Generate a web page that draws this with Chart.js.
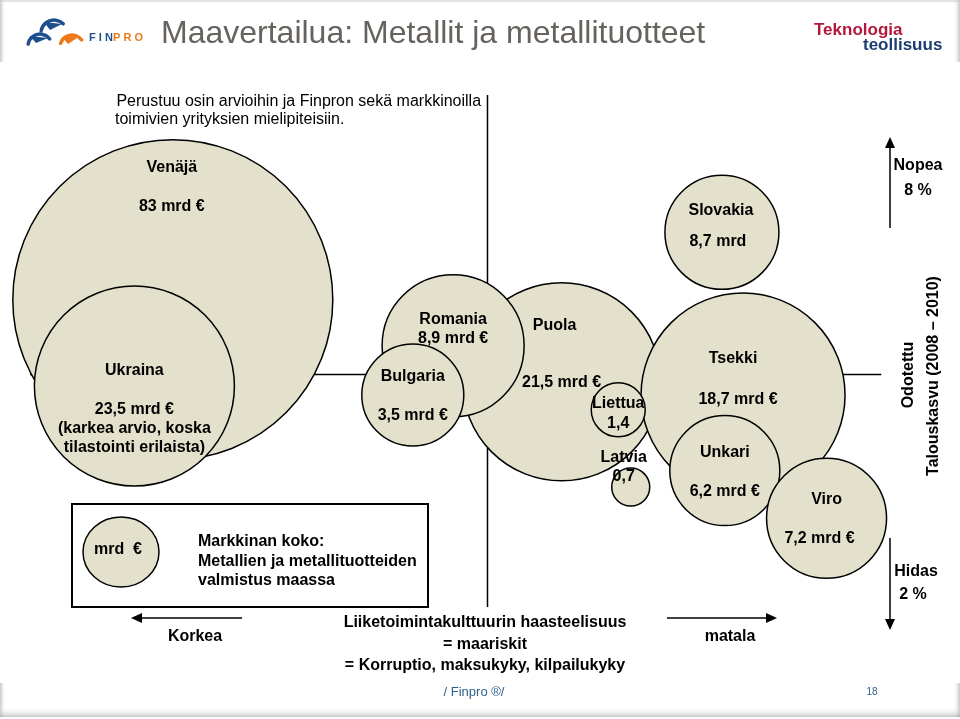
<!DOCTYPE html>
<html>
<head>
<meta charset="utf-8">
<title>Maavertailua: Metallit ja metallituotteet</title>
<script src="https://cdn.jsdelivr.net/npm/chart.js@4.4.1/dist/chart.umd.min.js"></script>
<style>
  html, body { margin: 0; padding: 0; background: #ffffff; }
  #kaavio { display: block; }
</style>
</head>
<body>
<canvas id="kaavio" width="960" height="719"></canvas>
<script>
// Maat piirtojärjestyksessä (alimmasta ylimpään)
const maat = ['Venäjä', 'Ukraina', 'Puola', 'Romania', 'Bulgaria', 'Tsekki', 'Liettua', 'Latvia', 'Slovakia', 'Unkari', 'Viro'];
// Markkinan koko, mrd €
const markkinaMrd = [83, 23.5, 21.5, 8.9, 3.5, 18.7, 1.4, 0.7, 8.7, 6.2, 7.2];
// Liiketoimintakulttuurin haasteellisuus (0 = korkea ... 10 = matala)
const haasteX = [1.80, 1.40, 5.85, 4.72, 4.30, 7.74, 6.44, 6.57, 7.52, 7.55, 8.61];
// Odotettu talouskasvu 2008-2010, %
const kasvuY = [6.02, 4.97, 5.02, 5.46, 4.86, 4.86, 4.68, 3.74, 6.84, 3.94, 3.36];
// Kuplan koko kuvasta luettuna
const kuplaR = [160, 100, 99, 71, 51, 102, 27, 19, 57, 55, 60];

const FONTTI = '"Liberation Sans", Arial, Helvetica, sans-serif';

// kuplat saavat mennä reunojen yli, ei automaattista reunatilaa
Chart.BubbleController.prototype.getMaxOverflow = function () { return 0; };

// luku suomalaisella desimaalipilkulla
function fmt(v) { return String(v).replace('.', ','); }

// tekstien sijoittelu kuplan keskipisteen suhteen
const tekstit = {
  'Venäjä':   [[-1, -132, n => n], [-1, -93, (n, v) => fmt(v) + ' mrd €']],
  'Ukraina':  [[0, -15, n => n], [0, 24, (n, v) => fmt(v) + ' mrd €'], [0, 43, () => '(karkea arvio, koska'], [0, 62, () => 'tilastointi erilaista)']],
  'Puola':    [[-7, -56, n => n], [0, 1, (n, v) => fmt(v) + ' mrd €']],
  'Romania':  [[0, -26, n => n], [0, -7, (n, v) => fmt(v) + ' mrd €']],
  'Bulgaria': [[0, -18, n => n], [0, 21, (n, v) => fmt(v) + ' mrd €']],
  'Tsekki':   [[-10, -36, n => n], [-5, 5, (n, v) => fmt(v) + ' mrd €']],
  'Liettua':  [[0, -6, n => n], [0, 14, (n, v) => fmt(v)]],
  'Latvia':   [[-7, -29, n => n], [-7, -10, (n, v) => fmt(v)]],
  'Slovakia': [[-1, -22, n => n], [-4, 9, (n, v) => fmt(v) + ' mrd']],
  'Unkari':   [[0, -18, n => n], [0, 21, (n, v) => fmt(v) + ' mrd €']],
  'Viro':     [[0, -19, n => n], [-7, 20, (n, v) => fmt(v) + ' mrd €']]
};

function nuoli(ctx, x1, y1, x2, y2) {
  const kulma = Math.atan2(y2 - y1, x2 - x1);
  ctx.beginPath();
  ctx.moveTo(x1, y1);
  ctx.lineTo(x2 - 8 * Math.cos(kulma), y2 - 8 * Math.sin(kulma));
  ctx.stroke();
  ctx.beginPath();
  ctx.moveTo(x2, y2);
  ctx.lineTo(x2 - 11 * Math.cos(kulma) + 5 * Math.sin(kulma), y2 - 11 * Math.sin(kulma) - 5 * Math.cos(kulma));
  ctx.lineTo(x2 - 11 * Math.cos(kulma) - 5 * Math.sin(kulma), y2 - 11 * Math.sin(kulma) + 5 * Math.cos(kulma));
  ctx.closePath();
  ctx.fill();
}

function reunaVarjo(ctx, x, y, w, h, suunta) {
  let g;
  if (suunta === 'vasen') g = ctx.createLinearGradient(x, 0, x + w, 0);
  else if (suunta === 'oikea') g = ctx.createLinearGradient(x + w, 0, x, 0);
  else g = ctx.createLinearGradient(0, y + h, 0, y);
  g.addColorStop(0, 'rgba(150,150,150,0.55)');
  g.addColorStop(1, 'rgba(255,255,255,0)');
  ctx.fillStyle = g;
  ctx.fillRect(x, y, w, h);
}

// Viivat kuplien taakse
const taustaPlugin = {
  id: 'tausta',
  beforeDatasetsDraw(chart) {
    const ctx = chart.ctx;
    const xs = chart.scales.x, ys = chart.scales.y;
    ctx.save();
    ctx.strokeStyle = '#000';
    ctx.lineWidth = 1.5;
    ctx.beginPath();
    const vx = Math.round(xs.getPixelForValue(5.07)) + 0.5;
    ctx.moveTo(vx, 95);
    ctx.lineTo(vx, 607);
    const hy = Math.round(ys.getPixelForValue(5.12)) + 0.5;
    ctx.moveTo(30, hy);
    ctx.lineTo(xs.getPixelForValue(9.18), hy);
    ctx.stroke();
    ctx.restore();
  }
};

// Otsikot, selitteet ja kuplien tekstit
const tekstiPlugin = {
  id: 'tekstit',
  afterDatasetsDraw(chart) {
    const ctx = chart.ctx;
    const meta = chart.getDatasetMeta(0);
    ctx.save();
    ctx.fillStyle = '#000';
    ctx.textAlign = 'center';
    ctx.textBaseline = 'middle';
    ctx.font = 'bold 16px ' + FONTTI;
    maat.forEach((maa, i) => {
      const p = meta.data[i];
      tekstit[maa].forEach(([dx, dy, f]) => {
        ctx.fillText(f(maa, markkinaMrd[i]), p.x + dx, p.y + dy);
      });
    });

    // ylä- ja alapalkin reunat
    reunaVarjo(ctx, 0, 0, 6, 62, 'vasen');
    reunaVarjo(ctx, 953, 0, 7, 62, 'oikea');
    ctx.fillStyle = 'rgba(200,200,200,0.5)';
    ctx.fillRect(0, 0, 960, 2);
    reunaVarjo(ctx, 0, 683, 6, 34, 'vasen');
    reunaVarjo(ctx, 953, 683, 7, 34, 'oikea');
    reunaVarjo(ctx, 0, 707, 960, 10, 'ala');

    // Finpro-logo
    ctx.lineWidth = 3.5;
    ctx.lineCap = 'round';
    ctx.strokeStyle = '#1f4e8c';
    ctx.beginPath(); ctx.arc(54, 33, 13, Math.PI * 1.05, Math.PI * 1.75); ctx.stroke();
    ctx.beginPath(); ctx.arc(40, 46, 12, Math.PI * 1.05, Math.PI * 1.8); ctx.stroke();
    ctx.fillStyle = '#1f4e8c';
    ctx.beginPath(); ctx.moveTo(44, 22); ctx.lineTo(62, 24); ctx.lineTo(50, 30); ctx.fill();
    ctx.beginPath(); ctx.moveTo(30, 36); ctx.lineTo(48, 38); ctx.lineTo(36, 43); ctx.fill();
    ctx.strokeStyle = '#ec7a1c';
    ctx.beginPath(); ctx.arc(72, 47, 12, Math.PI * 1.1, Math.PI * 1.8); ctx.stroke();
    ctx.fillStyle = '#ec7a1c';
    ctx.beginPath(); ctx.moveTo(62, 37); ctx.lineTo(80, 36); ctx.lineTo(68, 44); ctx.fill();
    ctx.textAlign = 'left';
    ctx.font = 'bold 11px ' + FONTTI;
    ctx.fillStyle = '#1f4e8c';
    ctx.fillText('F I N', 89, 38);
    ctx.fillStyle = '#ec7a1c';
    ctx.fillText('P R O', 113, 38);

    // otsikko
    ctx.fillStyle = '#66625e';
    ctx.font = '32px ' + FONTTI;
    ctx.fillText('Maavertailua: Metallit ja metallituotteet', 161, 34);

    // Teknologiateollisuus-logo
    ctx.font = 'bold 17px ' + FONTTI;
    ctx.fillStyle = '#b3173c';
    ctx.fillText('Teknologia', 814, 30);
    ctx.fillStyle = '#1c3d73';
    ctx.fillText('teollisuus', 863, 45);

    // lähdeteksti
    ctx.fillStyle = '#000';
    ctx.font = '16px ' + FONTTI;
    ctx.fillText(' Perustuu osin arvioihin ja Finpron sekä markkinoilla', 112, 102);
    ctx.fillText('toimivien yrityksien mielipiteisiin.', 115, 120);

    // kasvuakseli
    ctx.lineWidth = 1.5;
    ctx.lineCap = 'butt';
    ctx.strokeStyle = '#000';
    ctx.fillStyle = '#000';
    nuoli(ctx, 890, 228, 890, 137);
    nuoli(ctx, 890, 538, 890, 630);
    ctx.textAlign = 'center';
    ctx.font = 'bold 16px ' + FONTTI;
    ctx.fillText('Nopea', 918, 166);
    ctx.fillText('8 %', 918, 191);
    ctx.fillText('Hidas', 916, 572);
    ctx.fillText('2 %', 913, 595);
    ctx.save();
    ctx.translate(909, 375);
    ctx.rotate(-Math.PI / 2);
    ctx.fillText('Odotettu', 0, 0);
    ctx.restore();
    ctx.save();
    ctx.translate(934, 376);
    ctx.rotate(-Math.PI / 2);
    ctx.fillText('Talouskasvu (2008 – 2010)', 0, 0);
    ctx.restore();

    // haasteakseli
    nuoli(ctx, 242, 618, 131, 618);
    nuoli(ctx, 667, 618, 777, 618);
    ctx.fillText('Korkea', 195, 637);
    ctx.fillText('matala', 730, 637);
    ctx.fillText('Liiketoimintakulttuurin haasteelisuus', 485, 623);
    ctx.fillText('= maariskit', 485, 645);
    ctx.fillText('= Korruptio, maksukyky, kilpailukyky', 485, 666);

    // selite
    ctx.lineWidth = 2;
    ctx.strokeRect(72, 504, 356, 103);
    ctx.beginPath();
    ctx.ellipse(121, 552, 38, 35, 0, 0, Math.PI * 2);
    ctx.fillStyle = '#e3e1cb';
    ctx.fill();
    ctx.lineWidth = 1.5;
    ctx.stroke();
    ctx.fillStyle = '#000';
    ctx.fillText('mrd  €', 118, 550);
    ctx.textAlign = 'left';
    ctx.fillText('Markkinan koko:', 198, 542);
    ctx.fillText('Metallien ja metallituotteiden', 198, 562);
    ctx.fillText('valmistus maassa', 198, 581);

    // alatunniste
    ctx.textAlign = 'center';
    ctx.fillStyle = '#2b5f8e';
    ctx.font = '13px ' + FONTTI;
    ctx.fillText('/ Finpro ®/', 474, 692);
    ctx.font = '10px ' + FONTTI;
    ctx.fillText('18', 872, 692);
    ctx.restore();
  }
};

new Chart(document.getElementById('kaavio'), {
  type: 'bubble',
  data: {
    datasets: [{
      label: 'Markkinan koko (mrd €)',
      data: maat.map((m, i) => ({ x: haasteX[i], y: kasvuY[i], r: kuplaR[i] })),
      backgroundColor: '#e3e1cb',
      borderColor: '#000000',
      borderWidth: 1.5,
      hoverBorderWidth: 1.5,
      hoverRadius: 0,
      clip: false
    }]
  },
  options: {
    responsive: false,
    animation: false,
    devicePixelRatio: 1,
    layout: { padding: { top: 137, bottom: 89, left: 0, right: 0 } },
    scales: {
      x: { type: 'linear', min: 0, max: 10, display: false },
      y: { type: 'linear', min: 2, max: 8, display: false }
    },
    plugins: {
      legend: { display: false },
      tooltip: { enabled: false }
    },
    events: []
  },
  plugins: [taustaPlugin, tekstiPlugin]
});
</script>
</body>
</html>
